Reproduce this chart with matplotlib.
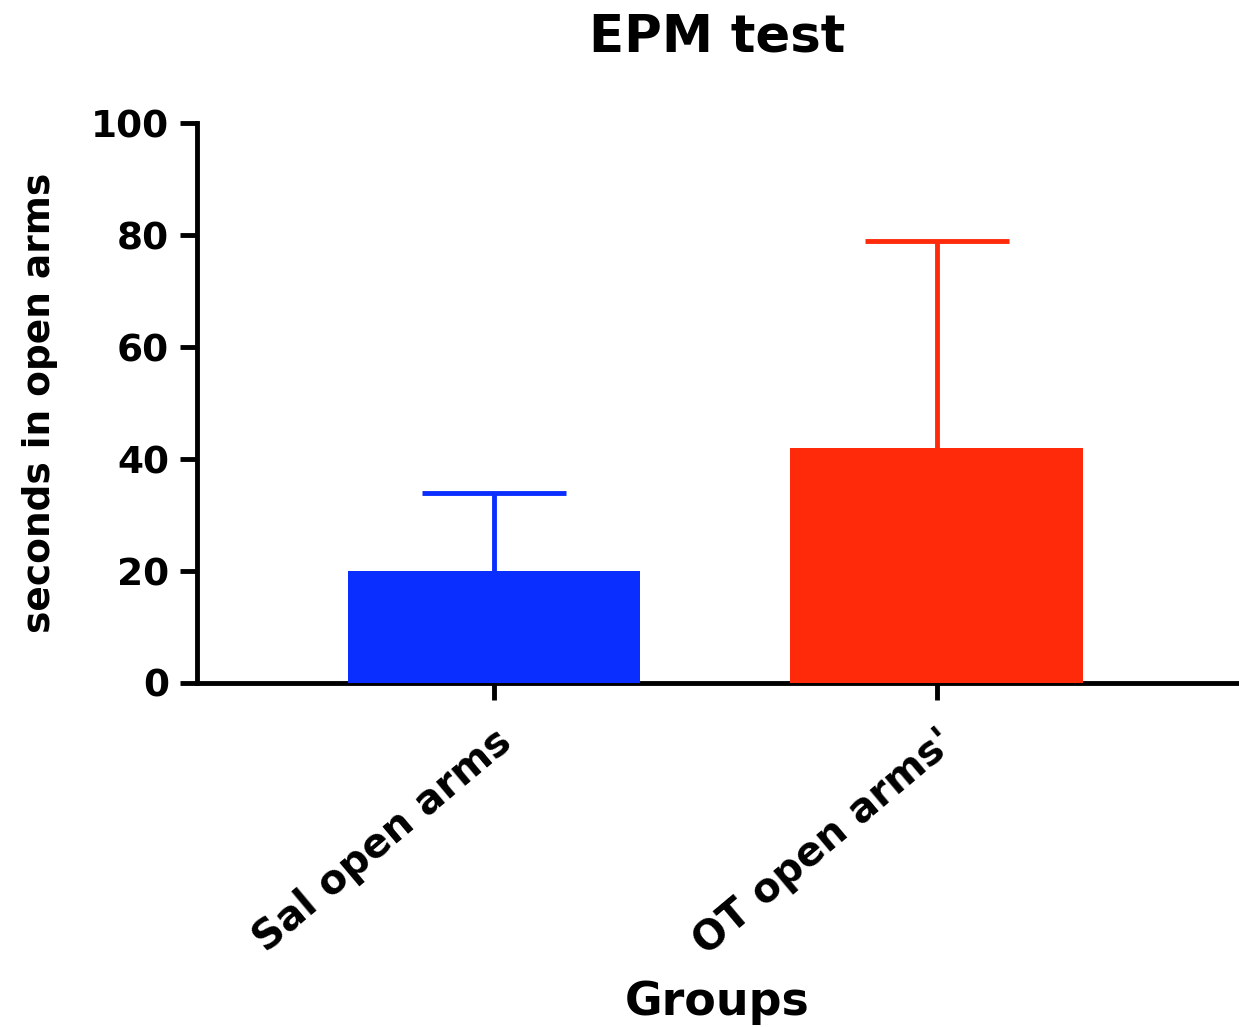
import matplotlib
matplotlib.use("Agg")
import matplotlib.pyplot as plt

categories = ["Sal open arms", "OT open arms'"]
means = [20, 42]
sem = [14, 37]
colors = ["#0A2EFF", "#FF2A0A"]
yticks = [0, 20, 40, 60, 80, 100]

plt.rcParams['font.family'] = ['DejaVu Sans']
plt.rcParams['font.weight'] = 'bold'

fig = plt.figure(figsize=(12.39, 10.27), dpi=100)
ax = fig.add_axes([0.159, 0.335, 0.84, 0.545])

x = list(range(len(categories)))
for i in x:
    ax.bar(i, means[i], width=0.66, color=colors[i], zorder=3)
    ax.errorbar(i, means[i], yerr=[[sem[i]], [sem[i]]], ecolor=colors[i],
                elinewidth=3.5, capsize=52, capthick=3.5, fmt='none', zorder=2)

ax.set_xlim(-0.67, 1.68)
ax.set_ylim(0, 100)
ax.set_yticks(yticks)
ax.set_xticks(x)
ax.set_xticklabels(categories, rotation=40, ha='right', rotation_mode='anchor',
                   fontsize=29, fontweight='bold')
ax.tick_params(axis='y', labelsize=27, width=3.5, length=12, pad=8)
ax.tick_params(axis='x', width=3.5, length=12, pad=16)
for lab in ax.get_yticklabels():
    lab.set_fontweight('bold')
for s in ['top', 'right']:
    ax.spines[s].set_visible(False)
for s in ['left', 'bottom']:
    ax.spines[s].set_linewidth(3.5)

ax.set_ylabel("seconds in open arms", fontsize=27, fontweight='bold', labelpad=24)
ax.set_xlabel("Groups", fontsize=33, fontweight='bold', labelpad=12)
ax.set_title("EPM test", fontsize=37, fontweight='bold', pad=52)

fig.savefig("out.png", dpi=100)
